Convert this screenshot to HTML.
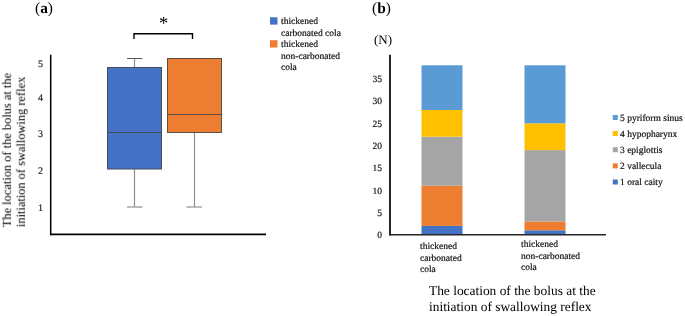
<!DOCTYPE html>
<html><head><meta charset="utf-8">
<style>
html,body{margin:0;padding:0;background:#fff;}
body{width:685px;height:316px;position:relative;overflow:hidden;font-family:"Liberation Serif",serif;color:#000;}
.t{position:absolute;white-space:nowrap;text-rendering:geometricPrecision;will-change:transform;}
.s{-webkit-text-stroke:0.2px currentColor;}
svg{position:absolute;left:0;top:0;}
</style></head><body>
<svg width="685" height="316" viewBox="0 0 685 316">
  <!-- left chart axes -->
  <line x1="50.7" y1="54.7" x2="50.7" y2="235.2" stroke="#000" stroke-width="1.5"/>
  <line x1="50.2" y1="234.4" x2="266" y2="234.4" stroke="#000" stroke-width="1.6"/>
  <!-- blue box -->
  <line x1="134.5" y1="58.5" x2="134.5" y2="207" stroke="#8f8f8f" stroke-width="1.2"/>
  <line x1="127" y1="58.5" x2="142.5" y2="58.5" stroke="#595959" stroke-width="1"/>
  <line x1="127" y1="207" x2="142.5" y2="207" stroke="#8f8f8f" stroke-width="1.2"/>
  <rect x="107.5" y="67.5" width="54" height="101.5" fill="#4472C4" stroke="#474d5a" stroke-width="1"/>
  <line x1="107.5" y1="132.5" x2="161.5" y2="132.5" stroke="#474d5a" stroke-width="1"/>
  <!-- orange box -->
  <line x1="194.5" y1="132" x2="194.5" y2="207" stroke="#8f8f8f" stroke-width="1.2"/>
  <line x1="186.5" y1="207" x2="202" y2="207" stroke="#8f8f8f" stroke-width="1.2"/>
  <rect x="167.5" y="58.5" width="54" height="74" fill="#ED7D31" stroke="#5e4f45" stroke-width="1"/>
  <line x1="167.5" y1="114.5" x2="221.5" y2="114.5" stroke="#5e4f45" stroke-width="1"/>
  <!-- bracket -->
  <path d="M134 39 V33.7 H192.5 V39" fill="none" stroke="#000" stroke-width="1.4"/>
  <!-- legend squares -->
  <rect x="270" y="17.3" width="7.5" height="7.3" fill="#4472C4"/>
  <rect x="270" y="40.2" width="7.5" height="7.3" fill="#ED7D31"/>

  <!-- right chart bars -->
  <!-- bar1: 2,9,11,6,10 ; y(v)=234.8-4.46v -->
  <rect x="421.5" y="225.9" width="41" height="8.9" fill="#4472C4"/>
  <rect x="421.5" y="185.7" width="41" height="40.2" fill="#ED7D31"/>
  <rect x="421.5" y="136.7" width="41" height="49" fill="#A5A5A5"/>
  <rect x="421.5" y="110" width="41" height="26.7" fill="#FFC000"/>
  <rect x="421.5" y="65.3" width="41" height="44.7" fill="#5B9BD5"/>
  <!-- bar2: 1,2,16,6,13 -->
  <rect x="524.5" y="230.3" width="41" height="4.5" fill="#4472C4"/>
  <rect x="524.5" y="221.4" width="41" height="8.9" fill="#ED7D31"/>
  <rect x="524.5" y="150.1" width="41" height="71.3" fill="#A5A5A5"/>
  <rect x="524.5" y="123.3" width="41" height="26.8" fill="#FFC000"/>
  <rect x="524.5" y="65.3" width="41" height="58" fill="#5B9BD5"/>
  <!-- right axes -->
  <line x1="390" y1="54.7" x2="390" y2="235.5" stroke="#262626" stroke-width="2"/>
  <line x1="389" y1="234.8" x2="606" y2="234.8" stroke="#262626" stroke-width="1.6"/>
  <!-- right legend markers -->
  <rect x="612.8" y="115" width="5" height="5" fill="#5B9BD5"/>
  <rect x="612.8" y="131" width="5" height="5" fill="#FFC000"/>
  <rect x="612.8" y="147.2" width="5" height="5" fill="#A5A5A5"/>
  <rect x="612.8" y="163.4" width="5" height="5" fill="#ED7D31"/>
  <rect x="612.8" y="179.5" width="5" height="5" fill="#4472C4"/>
</svg>

<!-- labels -->
<div class="t" style="left:35px;top:0.2px;font-size:15.4px;">(<b>a</b>)</div>
<div class="t" style="left:371.8px;top:0.2px;font-size:15.4px;">(<b>b</b>)</div>
<div class="t" style="left:158.6px;top:13.8px;font-size:18.5px;">*</div>

<!-- left tick labels -->
<div class="t s" style="left:38px;top:59.3px;font-size:10px;color:#262626;">5</div>
<div class="t s" style="left:38px;top:93.4px;font-size:10px;color:#262626;">4</div>
<div class="t s" style="left:38px;top:129.3px;font-size:10px;color:#262626;">3</div>
<div class="t s" style="left:38px;top:166.2px;font-size:10px;color:#262626;">2</div>
<div class="t s" style="left:38px;top:203px;font-size:10px;color:#262626;">1</div>

<!-- left y title rotated -->
<div class="t" style="left:-70.6px;top:128.1px;width:170px;font-size:12.4px;line-height:14.2px;text-align:left;transform:rotate(-90deg);">The location of the bolus at the<br>initiation of swallowing reflex</div>

<!-- left legend -->
<div class="t s" style="left:281px;top:17px;font-size:9.5px;line-height:11.5px;color:#111;">thickened<br>carbonated cola<br>thickened<br>non-carbonated<br>cola</div>

<!-- right -->
<div class="t" style="left:373.5px;top:32px;font-size:13px;">(N)</div>
<div class="t s" style="left:372px;top:68.6px;font-size:9.5px;line-height:22.33px;color:#111;text-align:right;width:10px;">35<br>30<br>25<br>20<br>15<br>10<br>5<br>0</div>

<div class="t s" style="left:419.5px;top:241.6px;font-size:9.5px;line-height:11.6px;color:#111;">thickened<br>carbonated<br>cola</div>
<div class="t s" style="left:520.5px;top:240.3px;font-size:9.5px;line-height:11.6px;color:#111;">thickened<br>non-carbonated<br>cola</div>

<div class="t s" style="left:620px;top:110.8px;font-size:9.5px;line-height:16.05px;color:#111;">5 pyriform sinus<br>4 hypopharynx<br>3 epiglottis<br>2 vallecula<br>1 oral caity</div>

<div class="t" style="left:428.8px;top:283.2px;font-size:13.4px;line-height:16px;color:#000;">The location of the bolus at the<br>initiation of swallowing reflex</div>
</body></html>
